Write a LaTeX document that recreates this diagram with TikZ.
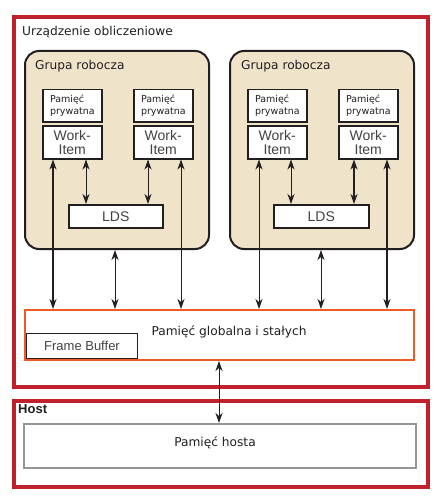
\documentclass[tikz,border=0pt]{standalone}
\usepackage{fontspec}
\setmainfont{DejaVu Sans}
\newfontfamily\arialf{Liberation Sans}
\usetikzlibrary{arrows.meta,calc}
\definecolor{devred}{HTML}{C1202F}
\definecolor{wgfill}{HTML}{EFE3CA}
\definecolor{gmorange}{HTML}{F15A24}
\definecolor{hostgray}{HTML}{939598}
\definecolor{ink}{HTML}{231F20}
\begin{document}
\begin{tikzpicture}[x=1pt,y=-1pt,
  box/.style={draw=ink,line width=1.5pt,fill=white,inner sep=0pt,anchor=north west},
  dvtitle/.style={font=\fontsize{12.2}{14}\selectfont,text=ink,anchor=west,inner sep=0pt},
  pmtext/.style={font=\fontsize{9.5}{12.5}\selectfont,text=ink,align=left},
  witext/.style={font=\arialf\fontsize{14}{14}\selectfont,text=ink!85,align=center},
  arr/.style={draw=ink,line width=1pt,{Stealth[length=10pt,width=7pt,inset=3pt]}-{Stealth[length=10pt,width=7pt,inset=3pt]}},
  arrthick/.style={arr,line width=1.4pt}
]
\useasboundingbox (0,0) rectangle (447,500);
\fill[white] (0,0) rectangle (447,500);
% device
\node[draw=devred,line width=4pt,inner sep=0pt,anchor=north west,minimum width=414pt,minimum height=370pt] (dev) at (12,15) {};
\node[dvtitle] (devt) at (22,32) {Urządzenie obliczeniowe};
% host
\node[draw=devred,line width=4pt,inner sep=0pt,anchor=north west,minimum width=414pt,minimum height=86pt] (host) at (12,399) {};
\node[font=\arialf\bfseries\fontsize{13}{13}\selectfont,text=ink,anchor=west,inner sep=0pt] (hostt) at (18,409) {Host};
% workgroups
\foreach \n/\x in {1/24,2/229}{
  \node[draw=ink,line width=2pt,fill=wgfill,rounded corners=14pt,inner sep=0pt,anchor=north west,minimum width=184pt,minimum height=198pt] (wg\n) at (\x,50) {};
}
\node[dvtitle] (wg1t) at (35,66) {Grupa robocza};
\node[dvtitle] (wg2t) at (241,66) {Grupa robocza};
% private memory + work items
\foreach \n/\x in {1/42,2/133,3/247,4/338}{
  \node[box,minimum width=59pt,minimum height=32pt] (pm\n) at (\x,89) {};
  \node[pmtext,anchor=west] at ($(pm\n.west)+(4.5,0)$) {Pamięć\\prywatna};
  \node[box,minimum width=59pt,minimum height=33pt] (wi\n) at (\x,125) {};
  \node[witext] at (wi\n.center) {Work-\\Item};
}
% LDS
\node[box,minimum width=94pt,minimum height=23pt] (lds1) at (68,204) {};
\node[box,minimum width=95pt,minimum height=23pt] (lds2) at (273,204) {};
\node[font=\arialf\fontsize{14}{14}\selectfont,text=ink!85] at (lds1.center) {LDS};
\node[font=\arialf\fontsize{14}{14}\selectfont,text=ink!85] at (lds2.center) {LDS};
% global memory
\node[draw=gmorange,line width=2pt,fill=white,inner sep=0pt,anchor=north west,minimum width=389pt,minimum height=50pt] (gm) at (24,309) {};
\node[font=\fontsize{12.2}{14}\selectfont,text=ink] (gmt) at (229,332) {Pamięć globalna i stałych};
\node[draw=ink,line width=1pt,inner sep=0pt,anchor=north west,minimum width=111pt,minimum height=25pt,font=\arialf\fontsize{13}{13}\selectfont,text=ink!85] (fb) at (26,333) {Frame Buffer};
% host memory
\node[draw=hostgray,line width=2pt,fill=white,inner sep=0pt,anchor=north west,minimum width=392pt,minimum height=44pt] (hm) at (23,423) {};
\node[font=\fontsize{12.2}{14}\selectfont,text=ink] (hmt) at (215,443) {Pamięć hosta};
% arrows
\draw[arrthick] (wi1.south -| 53,0) -- (gm.north -| 53,0);
\draw[arr] (wi1.south -| 86,0) -- (lds1.north -| 86,0);
\draw[arr] (wi2.south -| 148,0) -- (lds1.north -| 148,0);
\draw[arr] (wi2.south -| 181,0) -- (gm.north -| 181,0);
\draw[arr] (wg1.south -| 115,0) -- (gm.north -| 115,0);
\draw[arr] (wi3.south -| 259,0) -- (gm.north -| 259,0);
\draw[arr] (wi3.south -| 291,0) -- (lds2.north -| 291,0);
\draw[arrthick] (wi4.south -| 354,0) -- (lds2.north -| 354,0);
\draw[arrthick] (wi4.south -| 387,0) -- (gm.north -| 387,0);
\draw[arr] (wg2.south -| 321,0) -- (gm.north -| 321,0);
\draw[arr] (gm.south -| 219,0) -- (hm.north -| 219,0);
\end{tikzpicture}
\end{document}
